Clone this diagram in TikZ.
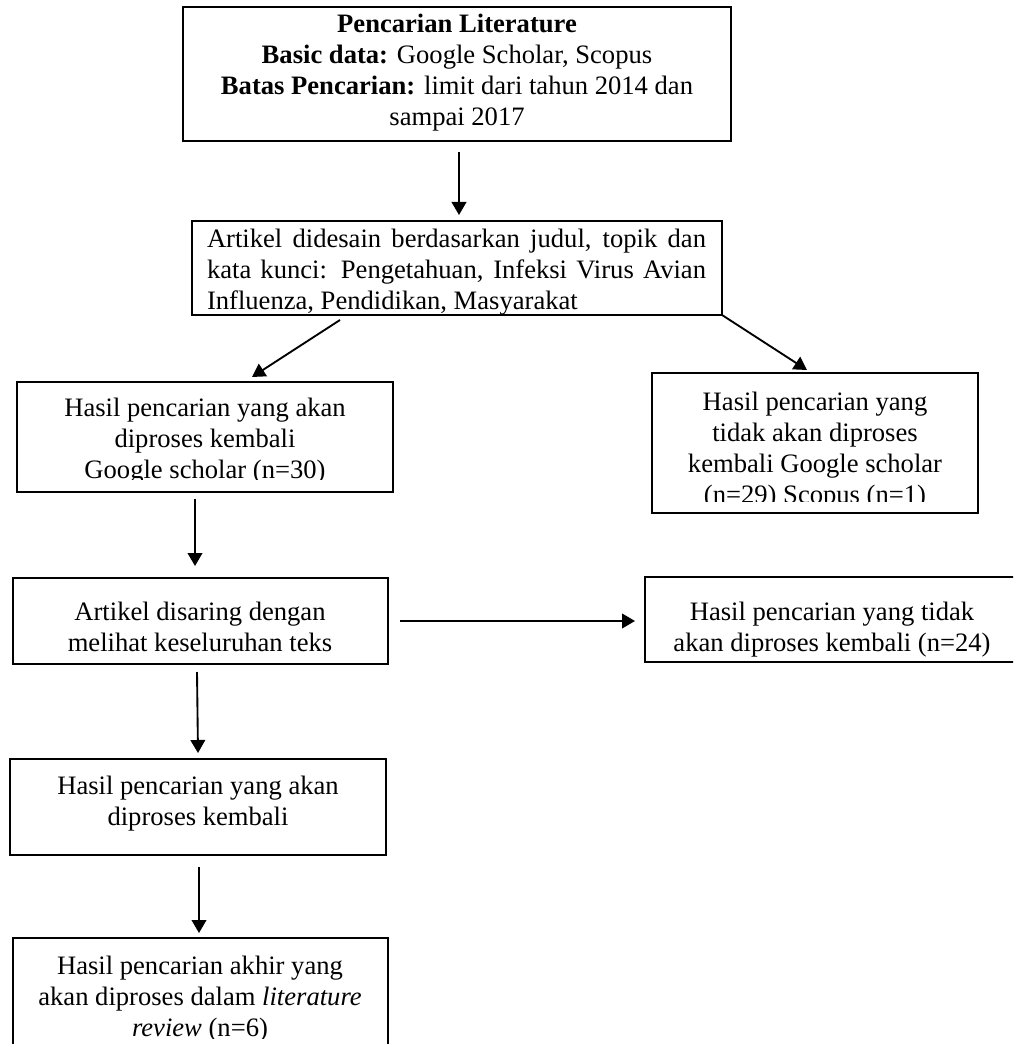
\documentclass[tikz,border=0pt]{standalone}
\usepackage{fontspec}
\setmainfont{Liberation Serif}
\usetikzlibrary{arrows.meta,calc}
\begin{document}
\begin{tikzpicture}[x=0.75pt,y=-0.75pt,
  box/.style={draw, line width=1.4pt, inner sep=0pt, outer sep=0pt, anchor=north west},
  txt/.style={inner sep=0pt, outer sep=0pt, align=center, anchor=north, font=\fontsize{19.95}{23.25}\selectfont},
  arr/.style={line width=1.4pt, -{Triangle[length=9.75pt,width=11pt]}}]
\useasboundingbox (0,0) rectangle (1013,1044);
\clip (0,0) rectangle (1013,1044);

% boxes
\node[box, minimum width=411pt, minimum height=100.5pt] (b1) at (183,7) {};
\node[box, minimum width=397.5pt, minimum height=70.5pt] (b2) at (192,221) {};
\node[box, minimum width=282pt, minimum height=82.5pt] (b3) at (17,382) {};
\node[box, minimum width=244.5pt, minimum height=105pt] (b4) at (652,373) {};
\node[box, minimum width=281.25pt, minimum height=64.5pt] (b5) at (13,578) {};
\node[box, minimum width=280.5pt, minimum height=63.75pt] (b6) at (645,577) {};
\node[box, minimum width=282pt, minimum height=72pt] (b7) at (10,759) {};
\node[box, minimum width=281.25pt, minimum height=84pt] (b8) at (13,938) {};

% texts
\node[txt] (t1) at (457,14) {\textbf{Pencarian Literature}\\
  \textbf{Basic data:} Google Scholar, Scopus\\
  \textbf{Batas Pencarian:} limit dari tahun 2014 dan\\
  sampai 2017};
\node[txt, align=justify, anchor=north west, text width=374.25pt] (t2) at (207,229)
  {Artikel didesain berdasarkan judul, topik dan\linebreak kata kunci: Pengetahuan, Infeksi Virus Avian\linebreak Influenza, Pendidikan, Masyarakat};
\begin{scope}
  \clip (b3.north west) rectangle ($(b3.south east)+(0,-13)$);
  \node[txt] (t3) at (205,398) {Hasil pencarian yang akan\\diproses kembali\\Google scholar (n=30)};
\end{scope}
\begin{scope}
  \clip (b4.north west) rectangle ($(b4.south east)+(0,-12)$);
  \node[txt] (t4) at (815,392) {Hasil pencarian yang\\tidak akan diproses\\kembali Google scholar\\(n=29) Scopus (n=1)};
\end{scope}
\node[txt] (t5) at (200,602) {Artikel disaring dengan\\melihat keseluruhan teks};
\node[txt] (t6) at (832,602) {Hasil pencarian yang tidak\\akan diproses kembali (n=24)};
\node[txt] (t7) at (198,776) {Hasil pencarian yang akan\\diproses kembali};
\begin{scope}
  \clip (b8.north west) rectangle ($(b8.south east)+(0,-12)$);
  \node[txt] (t8) at (200,956) {Hasil pencarian akhir yang\\akan diproses dalam \textit{literature}\\\textit{review} (n=6)};
\end{scope}

% connectors
\draw[arr] ($(b1.south)+(2,11)$) -- ($(b2.north)+(2,-6)$);
\draw[arr] ($(b2.south west)+(148,5)$) -- ($(b3.north west)+(235,-5)$);
\draw[arr] (b2.south east) -- ($(b4.north west)+(155,-3)$);
\draw[arr] ($(b3.south west)+(178,7)$) -- ($(b5.north west)+(182,-12)$);
\draw[arr] ($(b5.east)+(12,0)$) -- ($(b6.west |- b5.east)+(-10,0)$);
\draw[arr] ($(b5.south west)+(184,8)$) -- ($(b7.north west)+(188,-6)$);
\draw[arr] ($(b7.south west)+(189,12)$) -- ($(b8.north west)+(186,-5)$);
\end{tikzpicture}
\end{document}
